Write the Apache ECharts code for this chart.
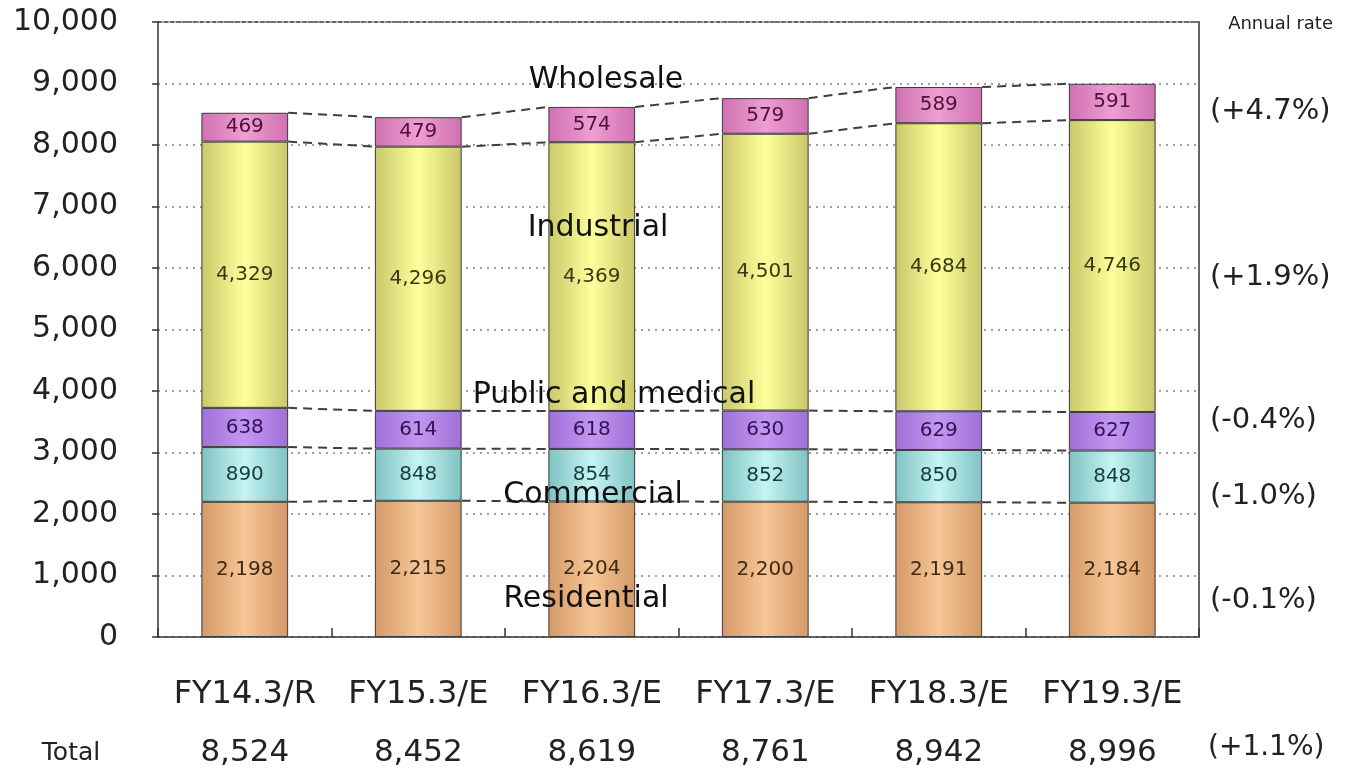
<!DOCTYPE html>
<html>
<head>
<meta charset="utf-8">
<script src="https://cdn.jsdelivr.net/npm/echarts@6/dist/echarts.min.js"></script>
<style>
  html, body { margin: 0; padding: 0; background: #fff; }
  #chart { width: 1352px; height: 776px; }
</style>
</head>
<body>
<div id="chart"></div>
<script>
// Fiscal years on the category axis
const categories = ['FY14.3/R', 'FY15.3/E', 'FY16.3/E', 'FY17.3/E', 'FY18.3/E', 'FY19.3/E'];

// Demand by segment, stacked bottom to top
const residential = [2198, 2215, 2204, 2200, 2191, 2184];
const commercial  = [890, 848, 854, 852, 850, 848];
const publicMed   = [638, 614, 618, 630, 629, 627];
const industrial  = [4329, 4296, 4369, 4501, 4684, 4746];
const wholesale   = [469, 479, 574, 579, 589, 591];

// Totals row under the axis
const totals = [8524, 8452, 8619, 8761, 8942, 8996];

// Segment names and their annual growth rates
const segmentNames = ['Residential', 'Commercial', 'Public and medical', 'Industrial', 'Wholesale'];
const annualRates  = ['(-0.1%)', '(-1.0%)', '(-0.4%)', '(+1.9%)', '(+4.7%)'];
const totalRate = '(+1.1%)';
const rateHeader = 'Annual rate';
const totalHeader = 'Total';

// Value axis ticks
const yMin = 0, yMax = 10000, yStep = 1000;

const FONT = '"DejaVu Sans", Verdana, sans-serif';
const fmt = v => Number(v).toLocaleString('en-US');

const segments = [residential, commercial, publicMed, industrial, wholesale];

// Per-segment look: gradient edge / centre colours, label colour
const looks = [
  { edge: '#d49a68', mid: '#f7c596', text: '#3d2a12' },
  { edge: '#7fc2c2', mid: '#c6f4f4', text: '#173c3c' },
  { edge: '#9f70d6', mid: '#c496f2', text: '#2e1552' },
  { edge: '#c9c86a', mid: '#ffff9c', text: '#3a3a10' },
  { edge: '#d070b2', mid: '#ee9ed2', text: '#4e1236' }
];

function cylinder(look) {
  return {
    type: 'linear', x: 0, y: 0, x2: 1, y2: 0,
    colorStops: [
      { offset: 0, color: look.edge },
      { offset: 0.5, color: look.mid },
      { offset: 1, color: look.edge }
    ]
  };
}

// Cumulative tops of each segment, used by the connector lines
const cumulative = [];
segments.forEach((arr, k) => {
  cumulative.push(arr.map((v, i) => v + (k > 0 ? cumulative[k - 1][i] : 0)));
});

const barSeries = segments.map((arr, k) => ({
  name: segmentNames[k],
  type: 'bar',
  stack: 'demand',
  barWidth: '50%',
  data: arr,
  z: 3,
  itemStyle: { color: cylinder(looks[k]), borderColor: '#3a3a3a', borderWidth: 1 },
  label: {
    show: true,
    position: 'inside',
    formatter: p => fmt(p.value),
    fontFamily: FONT,
    fontSize: 20,
    color: looks[k].text
  }
}));

// Dashed lines joining segment tops of neighbouring bars
const connectorSeries = cumulative.map(cum => ({
  type: 'custom',
  xAxisIndex: 0,
  yAxisIndex: 0,
  z: 4,
  silent: true,
  encode: { x: 0, y: [1, 2] },
  data: cum.slice(0, -1).map((v, i) => [i, v, cum[i + 1]]),
  renderItem: (params, api) => {
    const idx = api.value(0);
    const half = api.size([1, 0])[0] * 0.25;
    const a = api.coord([idx, api.value(1)]);
    const b = api.coord([idx + 1, api.value(2)]);
    return {
      type: 'line',
      shape: { x1: a[0] + half, y1: a[1], x2: b[0] - half, y2: b[1] },
      style: { stroke: '#3f3f3f', lineWidth: 2, lineDash: [9, 6] }
    };
  }
}));

// Text annotations: segment names over the plot, rates on the right
const namePos = [[586, 599], [593, 495], [614, 395], [598, 228], [606, 80]];
const ratePos = [600, 496, 420, 277, 111];

const graphics = [];
segmentNames.forEach((n, k) => {
  graphics.push({
    type: 'text', z: 100,
    x: namePos[k][0], y: namePos[k][1],
    style: { text: n, font: '30px ' + FONT, fill: '#111', textAlign: 'center', textVerticalAlign: 'middle' }
  });
});
annualRates.forEach((r, k) => {
  graphics.push({
    type: 'text', z: 100, x: 1210, y: ratePos[k],
    style: { text: r, font: '29px ' + FONT, fill: '#222', textAlign: 'left', textVerticalAlign: 'middle' }
  });
});
graphics.push({
  type: 'text', z: 100, x: 1333, y: 24,
  style: { text: rateHeader, font: '18px ' + FONT, fill: '#222', textAlign: 'right', textVerticalAlign: 'middle' }
});
graphics.push({
  type: 'text', z: 100, x: 1208, y: 748,
  style: { text: totalRate, font: '28px ' + FONT, fill: '#222', textAlign: 'left', textVerticalAlign: 'middle' }
});
graphics.push({
  type: 'text', z: 100, x: 71, y: 753,
  style: { text: totalHeader, font: '25px ' + FONT, fill: '#222', textAlign: 'center', textVerticalAlign: 'middle' }
});

const chart = echarts.init(document.getElementById('chart'), null, { renderer: 'canvas' });

chart.setOption({
  animation: false,
  backgroundColor: '#ffffff',
  grid: { left: 158, right: 153, top: 22, bottom: 139, containLabel: false },
  xAxis: [
    {
      type: 'category',
      data: categories,
      position: 'bottom',
      axisLine: { show: true, lineStyle: { color: '#333', width: 1.5 } },
      axisTick: { show: true, inside: true, interval: 0, length: 9, lineStyle: { color: '#333', width: 1.5 } },
      axisLabel: { interval: 0, hideOverlap: false, margin: 42, fontFamily: FONT, fontSize: 32, color: '#222' },
      splitLine: { show: false }
    },
    {
      type: 'category',
      data: totals.map(fmt),
      position: 'bottom',
      axisLine: { show: false },
      axisTick: { show: false },
      axisLabel: { interval: 0, hideOverlap: false, margin: 100, fontFamily: FONT, fontSize: 31, color: '#222' },
      splitLine: { show: false }
    },
    {
      type: 'category',
      data: categories,
      position: 'top',
      axisLine: { show: true, lineStyle: { color: '#444', width: 1.5, type: [4, 2] } },
      axisTick: { show: false },
      axisLabel: { show: false },
      splitLine: { show: false }
    }
  ],
  yAxis: [
    {
      type: 'value',
      min: yMin, max: yMax, interval: yStep,
      axisLine: { show: true, lineStyle: { color: '#333', width: 1.5 } },
      axisTick: { show: true, length: 6, lineStyle: { color: '#333', width: 1.5 } },
      axisLabel: { margin: 40, fontFamily: FONT, fontSize: 30, color: '#222', formatter: v => fmt(v) },
      splitLine: { show: true, lineStyle: { color: '#808080', width: 1.5, type: [2, 5] } }
    },
    {
      type: 'value',
      position: 'right',
      min: yMin, max: yMax, interval: yStep,
      axisLine: { show: true, lineStyle: { color: '#333', width: 1.5 } },
      axisTick: { show: false },
      axisLabel: { show: false },
      splitLine: { show: false }
    }
  ],
  series: barSeries.concat(connectorSeries),
  graphic: graphics
});
</script>
</body>
</html>
